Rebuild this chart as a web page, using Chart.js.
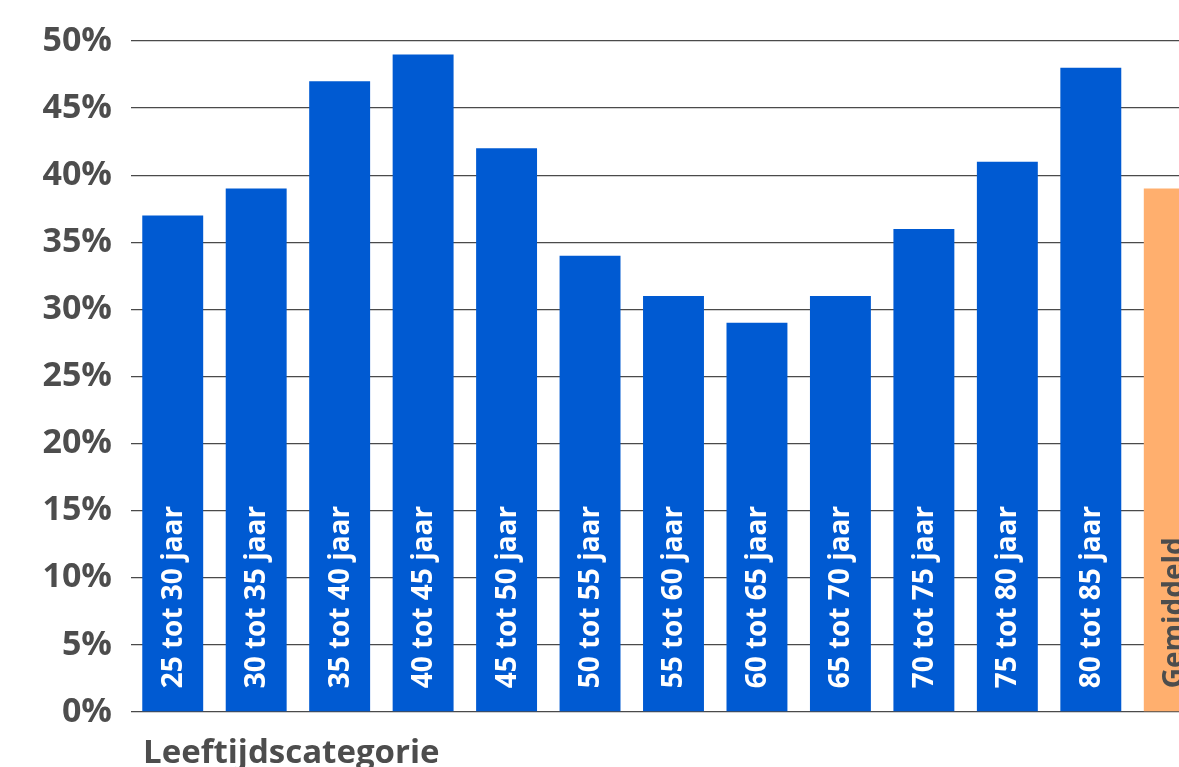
<!DOCTYPE html>
<html lang="nl">
<head>
  <meta charset="UTF-8">
  <title>Leeftijdscategorie</title>
  <script src="https://cdn.jsdelivr.net/npm/chart.js"></script>
  <style>
    html, body { margin: 0; padding: 0; background: #fff; overflow: hidden; }
    #wrap { width: 1179px; height: 767px; overflow: hidden; }
    canvas { display: block; }
  </style>
</head>
<body>
  <div id="wrap"><canvas id="chart" width="1216" height="767"></canvas></div>

  <script>
    const categories = ["25 tot 30 jaar", "30 tot 35 jaar", "35 tot 40 jaar", "40 tot 45 jaar",
      "45 tot 50 jaar", "50 tot 55 jaar", "55 tot 60 jaar", "60 tot 65 jaar", "65 tot 70 jaar",
      "70 tot 75 jaar", "75 tot 80 jaar", "80 tot 85 jaar", "Gemiddeld"];
    const values = [37, 39, 47, 49, 42, 34, 31, 29, 31, 36, 41, 48, 39];
    const axisTitle = "Leeftijdscategorie";

    const blue = "#005AD2";
    const orange = "#FFAF6E";
    const grey = "#4d4d4d";
    const fontFam = "'Open Sans', sans-serif";

    const barColors = categories.map(c => c === "Gemiddeld" ? orange : blue);
    const labelColors = categories.map(c => c === "Gemiddeld" ? grey : "#ffffff");

    // labels rotated inside bars, bottom aligned
    const barLabels = {
      id: "barLabels",
      afterDatasetsDraw(chart) {
        const ctx = chart.ctx;
        const meta = chart.getDatasetMeta(0);
        ctx.save();
        ctx.font = "bold 28px " + fontFam;
        ctx.textAlign = "left";
        ctx.textBaseline = "middle";
        meta.data.forEach((bar, i) => {
          ctx.save();
          ctx.translate(bar.x, bar.base - 23);
          ctx.rotate(-Math.PI / 2);
          ctx.fillStyle = labelColors[i];
          ctx.fillText(categories[i], 0, 1);
          ctx.restore();
        });
        ctx.restore();
      }
    };

    const axisTitlePlugin = {
      id: "axisTitlePlugin",
      afterDraw(chart) {
        const ctx = chart.ctx;
        ctx.save();
        ctx.font = "bold 33px " + fontFam;
        ctx.fillStyle = grey;
        ctx.textAlign = "left";
        ctx.textBaseline = "alphabetic";
        ctx.fillText(axisTitle, 143, 763);
        ctx.restore();
      }
    };

    new Chart(document.getElementById("chart"), {
      type: "bar",
      data: {
        labels: categories,
        datasets: [{
          data: values,
          backgroundColor: barColors,
          barPercentage: 0.73,
          categoryPercentage: 1
        }]
      },
      options: {
        responsive: false,
        animation: false,
        layout: { padding: { top: 41, right: 0, bottom: 0, left: 0 } },
        plugins: { legend: { display: false }, tooltip: { enabled: false } },
        scales: {
          x: {
            ticks: { display: false },
            grid: { display: false },
            border: { display: false },
            afterFit(scale) { scale.height = 55; }
          },
          y: {
            min: 0,
            max: 50,
            ticks: {
              stepSize: 5,
              padding: 19,
              color: grey,
              font: { family: fontFam, size: 34, weight: "bold" },
              callback: v => v + "%"
            },
            grid: { color: "#4a4a4a", lineWidth: 1.3, drawTicks: false },
            border: { display: false },
            afterFit(scale) { scale.width = 131; }
          }
        }
      },
      plugins: [barLabels, axisTitlePlugin]
    });
  </script>
</body>
</html>
